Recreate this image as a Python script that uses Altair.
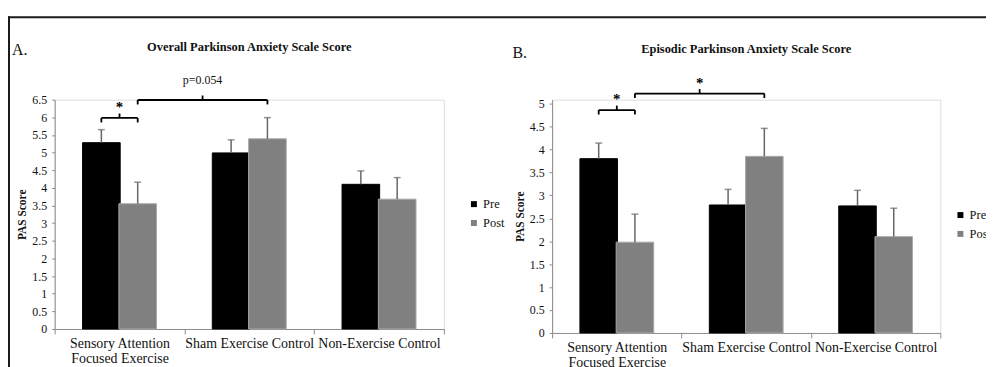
import json
import altair as alt
import pandas as pd

# ---------------- data ----------------
categories = ["Sensory Attention Focused Exercise", "Sham Exercise Control", "Non-Exercise Control"]
category_labels = [["Sensory Attention", "Focused Exercise"], "Sham Exercise Control", "Non-Exercise Control"]
phases = ["Pre", "Post"]
phase_colors = ["#000000", "#808080"]

# Panel A: Overall PAS score
a_pre = [5.28, 4.99, 4.10]
a_post = [3.55, 5.39, 3.68]
a_pre_err = [0.37, 0.37, 0.38]
a_post_err = [0.61, 0.60, 0.61]

# Panel B: Episodic PAS score
b_pre = [3.80, 2.79, 2.77]
b_post = [1.98, 3.85, 2.10]
b_pre_err = [0.34, 0.34, 0.34]
b_post_err = [0.61, 0.61, 0.62]

# significance brackets: (category, phase) -> (category, phase)
a_br_from_cat = [0, 0]
a_br_from_phase = ["Pre", "Post"]
a_br_to_cat = [0, 1]
a_br_to_phase = ["Post", "Post"]
a_br_level = [5.98, 6.49]
a_br_label = ["*", "p=0.054"]

b_br_from_cat = [0, 0]
b_br_from_phase = ["Pre", "Post"]
b_br_to_cat = [0, 1]
b_br_to_phase = ["Post", "Post"]
b_br_level = [4.86, 5.22]
b_br_label = ["*", "*"]

a_ticks = [0, 0.5, 1, 1.5, 2, 2.5, 3, 3.5, 4, 4.5, 5, 5.5, 6, 6.5]
b_ticks = [0, 0.5, 1, 1.5, 2, 2.5, 3, 3.5, 4, 4.5, 5]

FONT = "Liberation Serif"
BAR_HALF = 0.145
OFFSET = 0.14


def pos(cat, phase):
    return cat + (-OFFSET if phase == "Pre" else OFFSET)


def panel(pre, post, pre_err, post_err, fc, fp, tc, tp, level, label,
          domain_max, ticks, height, width, title, title_y,
          letter, letter_xy, legend_xy, frame=False):
    unit = domain_max / height  # data units per pixel
    rows = []
    for i, c in enumerate(categories):
        for ph, vals, errs in (("Pre", pre, pre_err), ("Post", post, post_err)):
            p = pos(i, ph)
            rows.append({"category": c, "phase": ph, "xc": p,
                         "xl": p - BAR_HALF, "xr": p + BAR_HALF,
                         "value": vals[i], "zero": 0.0, "top": vals[i] + errs[i]})
    df = pd.DataFrame(rows)

    segs, texts = [], []
    for i in range(len(level)):
        x1 = pos(fc[i], fp[i])
        x2 = pos(tc[i], tp[i])
        lv = level[i]
        drop = 4.5 * unit
        rise = 4.5 * unit
        mid = (x1 + x2) / 2
        segs += [
            {"x": x1, "x2": x2, "y": lv, "y2": lv},
            {"x": x1, "x2": x1, "y": lv, "y2": lv - drop},
            {"x": x2, "x2": x2, "y": lv, "y2": lv - drop},
            {"x": mid, "x2": mid, "y": lv, "y2": lv + rise},
        ]
        texts.append({"x": mid, "y": lv, "label": label[i], "star": label[i] == "*"})
    sdf = pd.DataFrame(segs)
    tdf = pd.DataFrame(texts)

    xscale = alt.Scale(domain=[-0.5, 2.5], nice=False, zero=False)
    yscale = alt.Scale(domain=[0, domain_max], nice=False, zero=True)
    labels_js = json.dumps(category_labels)
    xaxis = alt.Axis(
        values=[-0.5, 0, 0.5, 1, 1.5, 2, 2.5],
        labelExpr=f"datum.value % 1 === 0 ? {labels_js}[datum.value] : ''",
        tickOpacity={"condition": {"test": "datum.value % 1 !== 0", "value": 1}, "value": 0},
        title=None, grid=False, domainColor="#8c8c8c", tickColor="#8c8c8c",
        tickSize=5, labelPadding=3, labelFontSize=14, labelFont=FONT,
        labelColor="#111111", labelLineHeight=15, labelOverlap=False, labelFlush=False,
    )
    yaxis = alt.Axis(
        values=ticks, format="~g", title="PAS Score", titleFont=FONT, titleFontSize=11.5,
        titleFontWeight="bold", titleColor="#111111", titlePadding=4,
        grid=False, domainColor="#8c8c8c", tickColor="#8c8c8c", tickSize=3,
        labelPadding=5, labelFontSize=12, labelFont=FONT, labelColor="#111111",
        labelFlush=False,
    )

    bars = alt.Chart(df).mark_bar(strokeWidth=1).encode(
        x=alt.X("xl:Q", scale=xscale, axis=xaxis),
        x2="xr:Q",
        y=alt.Y("value:Q", scale=yscale, axis=yaxis),
        y2="zero:Q",
        color=alt.Color("phase:N", scale=alt.Scale(domain=phases, range=phase_colors),
                        legend=alt.Legend(orient="none", legendX=legend_xy[0], legendY=legend_xy[1],
                                          title=None, symbolType="square", symbolSize=36,
                                          symbolStrokeWidth=0, labelFont=FONT, labelFontSize=12.5,
                                          labelColor="#111111", rowPadding=6, labelOffset=3,
                                          padding=0)),
        stroke=alt.condition(alt.datum.phase == "Post", alt.value("#a8a8a8"), alt.value("#000000")),
    )
    err = alt.Chart(df).mark_rule(color="#666666", strokeWidth=1.5).encode(
        x=alt.X("xc:Q", scale=xscale, axis=xaxis),
        y=alt.Y("value:Q", scale=yscale, axis=yaxis),
        y2="top:Q",
    )
    caps = alt.Chart(df).mark_tick(color="#666666", orient="horizontal", size=7, thickness=1.5).encode(
        x=alt.X("xc:Q", scale=xscale, axis=xaxis),
        y=alt.Y("top:Q", scale=yscale, axis=yaxis),
    )
    brackets = alt.Chart(sdf).mark_rule(color="#000000", strokeWidth=1.8).encode(
        x=alt.X("x:Q", scale=xscale, axis=xaxis), x2="x2:Q",
        y=alt.Y("y:Q", scale=yscale, axis=yaxis), y2="y2:Q",
    )
    stars = alt.Chart(tdf).transform_filter("datum.star").mark_text(
        font=FONT, fontSize=15, fontWeight="bold", baseline="middle", dy=-11, color="#000000"
    ).encode(
        x=alt.X("x:Q", scale=xscale, axis=xaxis),
        y=alt.Y("y:Q", scale=yscale, axis=yaxis),
        text="label:N",
    )
    ptext = alt.Chart(tdf).transform_filter("!datum.star").mark_text(
        font=FONT, fontSize=12, baseline="middle", dy=-20, color="#111111"
    ).encode(
        x=alt.X("x:Q", scale=xscale, axis=xaxis),
        y=alt.Y("y:Q", scale=yscale, axis=yaxis),
        text="label:N",
    )
    one = pd.DataFrame({"k": [0]})
    letter_mark = alt.Chart(one).mark_text(
        font=FONT, fontSize=16, align="left", baseline="middle", color="#111111", text=letter
    ).encode(x=alt.value(letter_xy[0]), y=alt.value(letter_xy[1]))
    title_mark = alt.Chart(one).mark_text(
        font=FONT, fontSize=12.5, fontWeight="bold", align="center", baseline="middle",
        color="#111111", text=title
    ).encode(x=alt.value(width / 2), y=alt.value(title_y))

    layers = [bars, err, caps, brackets, stars, ptext, letter_mark, title_mark]
    if frame:
        fv = alt.Chart(one).mark_rule(color="#1a1a1a", strokeWidth=2).encode(
            x=alt.value(-46), y=alt.value(-84), y2=alt.value(280))
        fh = alt.Chart(one).mark_rule(color="#1a1a1a", strokeWidth=2).encode(
            x=alt.value(-47), x2=alt.value(945), y=alt.value(-83))
        layers += [fv, fh]

    return alt.layer(*layers).properties(width=width, height=height)


chart_a = panel(a_pre, a_post, a_pre_err, a_post_err,
                a_br_from_cat, a_br_from_phase, a_br_to_cat, a_br_to_phase, a_br_level, a_br_label,
                6.5, a_ticks, 231, 392, "Overall Parkinson Anxiety Scale Score", -53,
                "A.", (-43, -50), (416, 99), frame=True)
chart_b = panel(b_pre, b_post, b_pre_err, b_post_err,
                b_br_from_cat, b_br_from_phase, b_br_to_cat, b_br_to_phase, b_br_level, b_br_label,
                5.087, b_ticks, 235, 391, "Episodic Parkinson Anxiety Scale Score", -51,
                "B.", (-40, -47), (405, 110))

# fixed canvas: plot A origin at page (55, 99); canvas 985 wide, reaching the bottom of the window
chart = alt.hconcat(chart_a, chart_b, spacing=109, bounds="flush").resolve_scale(
    color="independent"
).resolve_legend(color="independent").properties(
    autosize=alt.AutoSizeParams(type="none"),
    padding={"left": 47, "top": 91, "right": 938, "bottom": 269},
).configure_view(stroke=None).configure(font=FONT)

chart.save("out.html", embed_options={"renderer": "svg", "actions": False})
